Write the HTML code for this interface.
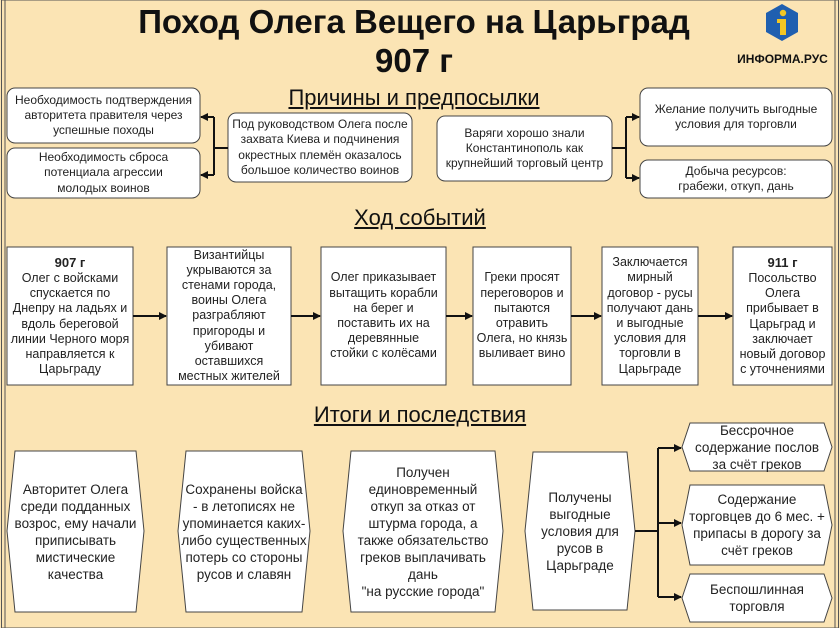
<!DOCTYPE html>
<html><head><meta charset="utf-8"><style>
body{margin:0;width:840px;height:628px;overflow:hidden;background:#fbe4b4;font-family:"Liberation Sans","DejaVu Sans",sans-serif;}
.t{position:absolute;display:flex;align-items:center;justify-content:center;text-align:center;font-size:12.5px;line-height:15.2px;color:#222;}
.s{font-size:12px;}
.h{position:absolute;text-align:center;font-size:22px;text-decoration:underline;color:#111;}
</style></head><body>
<svg width="840" height="628" style="position:absolute;left:0;top:0">
<defs><marker id="a" markerWidth="8" markerHeight="8" refX="7" refY="4" orient="auto" markerUnits="userSpaceOnUse"><path d="M0,0 L8,4 L0,8 z" fill="#111"/></marker></defs>
<rect x="1.5" y="0" width="837" height="628" fill="none" stroke="#555" stroke-width="1"/>
<rect x="5" y="-2" width="830" height="640" fill="none" stroke="#555" stroke-width="1"/>
<g fill="#fff" stroke="#444" stroke-width="1">
<rect x="7" y="88" width="193" height="55" rx="8"/>
<rect x="7" y="148" width="193" height="50" rx="8"/>
<rect x="228" y="113" width="184" height="69" rx="8"/>
<rect x="437" y="116" width="175" height="65" rx="8"/>
<rect x="640" y="88" width="192" height="58" rx="8"/>
<rect x="640" y="160" width="192" height="38" rx="8"/>
<rect x="7" y="247" width="126" height="138"/>
<rect x="167" y="247" width="124" height="138"/>
<rect x="321" y="247" width="125" height="138"/>
<rect x="473" y="247" width="98" height="138"/>
<rect x="602" y="247" width="96" height="138"/>
<rect x="733" y="247" width="99" height="138"/>
<polygon points="15,451 136,451 144,531 136,612 15,612 7,531"/>
<polygon points="186,451 302,451 310,531 302,612 186,612 178,531"/>
<polygon points="351,451 495,451 503,531 495,612 351,612 343,531"/>
<polygon points="533,452 627,452 635,531 627,610 533,610 525,531"/>
<polygon points="690,423 824,423 832,447 824,471 690,471 682,447"/>
<polygon points="690,485 824,485 832,525 824,565 690,565 682,525"/>
<polygon points="690,574 824,574 832,598 824,622 690,622 682,598"/>
</g>
<g stroke="#111" stroke-width="2" fill="none">
<path d="M228,148 H214 M214,117 V175"/>
<path d="M214,117 H201" marker-end="url(#a)"/><path d="M214,175 H201" marker-end="url(#a)"/>
<path d="M612,148 H626 M626,117 V178"/>
<path d="M626,117 H639" marker-end="url(#a)"/><path d="M626,178 H639" marker-end="url(#a)"/>
<path d="M133,316 H166" marker-end="url(#a)"/>
<path d="M291,316 H320" marker-end="url(#a)"/>
<path d="M446,316 H472" marker-end="url(#a)"/>
<path d="M571,316 H601" marker-end="url(#a)"/>
<path d="M698,316 H732" marker-end="url(#a)"/>
<path d="M635,531 H658 M658,448 V597"/>
<path d="M658,448 H681" marker-end="url(#a)"/><path d="M658,523 H681" marker-end="url(#a)"/><path d="M658,597 H681" marker-end="url(#a)"/>
</g>
<polygon points="782,4 798,13 798,32 782,41 766,32 766,13" fill="#1f5fb0"/>
<circle cx="783" cy="13" r="3.2" fill="#f3c623"/>
<path d="M777,19 H786 V35 H780 V23 H777 z" fill="#f3c623"/>
</svg>
<div style="position:absolute;left:0;width:828px;top:2px;text-align:center;font-weight:bold;font-size:33px;line-height:39px;color:#111">Поход Олега Вещего на Царьград<br>907 г</div>
<div style="position:absolute;left:730px;width:105px;top:52px;text-align:center;font-weight:bold;font-size:12px;color:#111">ИНФОРМА.РУС</div>
<div class="h" style="left:214px;width:400px;top:85px">Причины и предпосылки</div>
<div class="h" style="left:220px;width:400px;top:205px">Ход событий</div>
<div class="h" style="left:220px;width:400px;top:402px">Итоги и последствия</div>
<div class="t s" style="left:7px;top:88px;width:193px;height:55px">Необходимость подтверждения<br>авторитета правителя через<br>успешные походы</div>
<div class="t s" style="left:7px;top:148px;width:193px;height:50px">Необходимость сброса<br>потенциала агрессии<br>молодых воинов</div>
<div class="t s" style="left:228px;top:113px;width:184px;height:69px">Под руководством Олега после<br>захвата Киева и подчинения<br>окрестных племён оказалось<br>большое количество воинов</div>
<div class="t s" style="left:437px;top:116px;width:175px;height:65px">Варяги хорошо знали<br>Константинополь как<br>крупнейший торговый центр</div>
<div class="t s" style="left:640px;top:88px;width:192px;height:58px">Желание получить выгодные<br>условия для торговли</div>
<div class="t s" style="left:640px;top:160px;width:192px;height:38px">Добыча ресурсов:<br>грабежи, откуп, дань</div>
<div class="t" style="left:7px;top:247px;width:126px;height:138px"><div><b style="font-size:13px">907 г</b><br>Олег с войсками<br>спускается по<br>Днепру на ладьях и<br>вдоль береговой<br>линии Черного моря<br>направляется к<br>Царьграду</div></div>
<div class="t" style="left:167px;top:247px;width:124px;height:138px">Византийцы<br>укрываются за<br>стенами города,<br>воины Олега<br>разграбляют<br>пригороды и<br>убивают<br>оставшихся<br>местных жителей</div>
<div class="t" style="left:321px;top:247px;width:125px;height:138px">Олег приказывает<br>вытащить корабли<br>на берег и<br>поставить их на<br>деревянные<br>стойки с колёсами</div>
<div class="t" style="left:473px;top:247px;width:98px;height:138px">Греки просят<br>переговоров и<br>пытаются<br>отравить<br>Олега, но князь<br>выливает вино</div>
<div class="t" style="left:602px;top:247px;width:96px;height:138px">Заключается<br>мирный<br>договор - русы<br>получают дань<br>и выгодные<br>условия для<br>торговли в<br>Царьграде</div>
<div class="t" style="left:733px;top:247px;width:99px;height:138px"><div><b style="font-size:13px">911 г</b><br>Посольство<br>Олега<br>прибывает в<br>Царьград и<br>заключает<br>новый договор<br>с уточнениями</div></div>
<div class="t" style="left:7px;top:451px;width:137px;height:161px;font-size:13.5px;line-height:17px">Авторитет Олега<br>среди подданных<br>возрос, ему начали<br>приписывать<br>мистические<br>качества</div>
<div class="t" style="left:178px;top:451px;width:132px;height:161px;font-size:13.5px;line-height:17px">Сохранены войска<br>- в летописях не<br>упоминается каких-<br>либо существенных<br>потерь со стороны<br>русов и славян</div>
<div class="t" style="left:343px;top:451px;width:160px;height:161px;font-size:13.5px;line-height:17px">Получен<br>единовременный<br>откуп за отказ от<br>штурма города, а<br>также обязательство<br>греков выплачивать<br>дань<br>"на русские города"</div>
<div class="t" style="left:525px;top:452px;width:110px;height:158px;font-size:13.5px;line-height:17px">Получены<br>выгодные<br>условия для<br>русов в<br>Царьграде</div>
<div class="t" style="left:682px;top:423px;width:150px;height:48px;font-size:13.5px;line-height:17px">Бессрочное<br>содержание послов<br>за счёт греков</div>
<div class="t" style="left:682px;top:485px;width:150px;height:80px;font-size:13.5px;line-height:17px">Содержание<br>торговцев до 6 мес. +<br>припасы в дорогу за<br>счёт греков</div>
<div class="t" style="left:682px;top:574px;width:150px;height:48px;font-size:13.5px;line-height:17px">Беспошлинная<br>торговля</div>
</body></html>
